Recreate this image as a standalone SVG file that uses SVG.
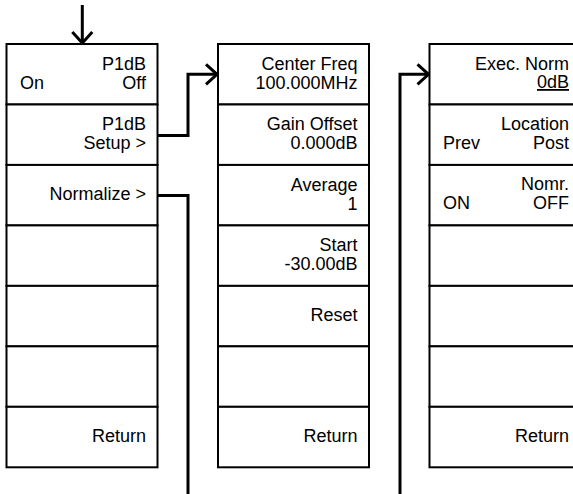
<svg xmlns="http://www.w3.org/2000/svg" width="573" height="494" viewBox="0 0 573 494">
<style>
.key{fill:#fff;stroke:#000;stroke-width:2}
.t{font-family:"Liberation Sans",Arial,sans-serif;font-size:18px;fill:#000}
.r{text-anchor:end}
.l{text-anchor:start}
.conn{fill:none;stroke:#000;stroke-width:3}
</style>
<defs>
<marker id="ah" markerUnits="userSpaceOnUse" orient="auto" overflow="visible" refX="0" refY="0" markerWidth="16" markerHeight="24" viewBox="-14 -12 16 24">
<path d="M-11,-10 L0,0 L-11,10" fill="none" stroke="#000" stroke-width="3"/>
</marker>
</defs>
<rect width="573" height="494" fill="#fff"/>

<g id="connectors">
<path class="conn" d="M82.3,5 V43" marker-end="url(#ah)"/>
<path class="conn" d="M157.5,135.5 H188 V74.3 H217" marker-end="url(#ah)"/>
<path class="conn" d="M157.5,195.5 H188 V520 H400 V74.3 H428.5" marker-end="url(#ah)"/>
</g>

<g id="menu-p1db">
<g id="key-p1db-onoff"><rect class="key" x="6.5" y="44" width="151" height="60.47"/>
<text class="t r" x="146" y="69.8">P1dB</text><text class="t l" x="20" y="88.6">On</text><text class="t r" x="146" y="88.6">Off</text></g>
<g id="key-p1db-setup"><rect class="key" x="6.5" y="104.47" width="151" height="60.47"/>
<text class="t r" x="146" y="130.3">P1dB</text><text class="t r" x="146" y="149.1">Setup &gt;</text></g>
<g id="key-normalize"><rect class="key" x="6.5" y="164.94" width="151" height="60.47"/>
<text class="t r" x="146" y="200.2">Normalize &gt;</text></g>
<g id="key-p1db-4"><rect class="key" x="6.5" y="225.41" width="151" height="60.47"/></g>
<g id="key-p1db-5"><rect class="key" x="6.5" y="285.88" width="151" height="60.47"/></g>
<g id="key-p1db-6"><rect class="key" x="6.5" y="346.35" width="151" height="60.47"/></g>
<g id="key-p1db-return"><rect class="key" x="6.5" y="406.82" width="151" height="60.47"/>
<text class="t r" x="146" y="442.1">Return</text></g>
</g>

<g id="menu-setup">
<g id="key-center-freq"><rect class="key" x="218" y="44" width="151" height="60.47"/>
<text class="t r" x="357.5" y="69.8">Center Freq</text><text class="t r" x="357.5" y="88.6">100.000MHz</text></g>
<g id="key-gain-offset"><rect class="key" x="218" y="104.47" width="151" height="60.47"/>
<text class="t r" x="357.5" y="130.3">Gain Offset</text><text class="t r" x="357.5" y="149.1">0.000dB</text></g>
<g id="key-average"><rect class="key" x="218" y="164.94" width="151" height="60.47"/>
<text class="t r" x="357.5" y="190.7">Average</text><text class="t r" x="357.5" y="209.5">1</text></g>
<g id="key-start"><rect class="key" x="218" y="225.41" width="151" height="60.47"/>
<text class="t r" x="357.5" y="251.3">Start</text><text class="t r" x="357.5" y="270">-30.00dB</text></g>
<g id="key-reset"><rect class="key" x="218" y="285.88" width="151" height="60.47"/>
<text class="t r" x="357.5" y="321.2">Reset</text></g>
<g id="key-setup-6"><rect class="key" x="218" y="346.35" width="151" height="60.47"/></g>
<g id="key-setup-return"><rect class="key" x="218" y="406.82" width="151" height="60.47"/>
<text class="t r" x="357.5" y="442.1">Return</text></g>
</g>

<g id="menu-normalize">
<g id="key-exec-norm"><rect class="key" x="429.5" y="44" width="151" height="60.47"/>
<text class="t r" x="569" y="69.5">Exec. Norm</text><text class="t r" x="569" y="88" text-decoration="underline">0dB</text></g>
<g id="key-location"><rect class="key" x="429.5" y="104.47" width="151" height="60.47"/>
<text class="t r" x="569" y="130">Location</text><text class="t l" x="443" y="148.5">Prev</text><text class="t r" x="569" y="148.5">Post</text></g>
<g id="key-norm-onoff"><rect class="key" x="429.5" y="164.94" width="151" height="60.47"/>
<text class="t r" x="569" y="190.3">Nomr.</text><text class="t l" x="443" y="208.8">ON</text><text class="t r" x="569" y="208.8">OFF</text></g>
<g id="key-norm-4"><rect class="key" x="429.5" y="225.41" width="151" height="60.47"/></g>
<g id="key-norm-5"><rect class="key" x="429.5" y="285.88" width="151" height="60.47"/></g>
<g id="key-norm-6"><rect class="key" x="429.5" y="346.35" width="151" height="60.47"/></g>
<g id="key-norm-return"><rect class="key" x="429.5" y="406.82" width="151" height="60.47"/>
<text class="t r" x="569" y="442.1">Return</text></g>
</g>
</svg>
